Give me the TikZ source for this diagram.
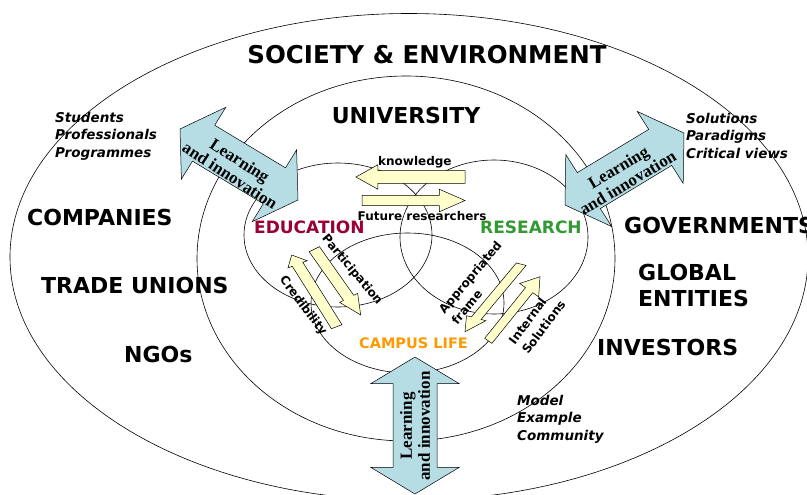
\documentclass[tikz,border=0pt]{standalone}
\usepackage{fontspec}
\setmainfont{DejaVu Sans}
\newfontfamily\serifLI{Liberation Serif}
\definecolor{bluefill}{RGB}{182,221,228}
\definecolor{yelfill}{RGB}{255,255,204}
\definecolor{edured}{RGB}{153,0,51}
\definecolor{resgreen}{RGB}{51,153,51}
\definecolor{campor}{RGB}{255,153,0}
% double block arrow: cx cy ax ay bx by r s
\newcommand{\dblarr}[8]{%
 \filldraw[bluearr] ({(#1)-(#3)},{(#2)-(#4)})
 -- ({(#1)-(#7)*(#3)+(#5)},{(#2)-(#7)*(#4)+(#6)})
 -- ({(#1)-(#7)*(#3)+(#8)*(#5)},{(#2)-(#7)*(#4)+(#8)*(#6)})
 -- ({(#1)+(#7)*(#3)+(#8)*(#5)},{(#2)+(#7)*(#4)+(#8)*(#6)})
 -- ({(#1)+(#7)*(#3)+(#5)},{(#2)+(#7)*(#4)+(#6)})
 -- ({(#1)+(#3)},{(#2)+(#4)})
 -- ({(#1)+(#7)*(#3)-(#5)},{(#2)+(#7)*(#4)-(#6)})
 -- ({(#1)+(#7)*(#3)-(#8)*(#5)},{(#2)+(#7)*(#4)-(#8)*(#6)})
 -- ({(#1)-(#7)*(#3)-(#8)*(#5)},{(#2)-(#7)*(#4)-(#8)*(#6)})
 -- ({(#1)-(#7)*(#3)-(#5)},{(#2)-(#7)*(#4)-(#6)})
 -- cycle;}
% single block arrow: tx ty ax ay bx by r s
\newcommand{\sglarr}[8]{%
 \filldraw[yelarr] ({(#1)+(#8)*(#5)},{(#2)+(#8)*(#6)})
 -- ({(#1)+(#7)*(#3)+(#8)*(#5)},{(#2)+(#7)*(#4)+(#8)*(#6)})
 -- ({(#1)+(#7)*(#3)+(#5)},{(#2)+(#7)*(#4)+(#6)})
 -- ({(#1)+(#3)},{(#2)+(#4)})
 -- ({(#1)+(#7)*(#3)-(#5)},{(#2)+(#7)*(#4)-(#6)})
 -- ({(#1)+(#7)*(#3)-(#8)*(#5)},{(#2)+(#7)*(#4)-(#8)*(#6)})
 -- ({(#1)-(#8)*(#5)},{(#2)-(#8)*(#6)})
 -- cycle;}
\tikzset{
 big/.style={font=\bfseries\fontsize{22}{26}\selectfont, inner sep=0pt},
 midlab/.style={font=\bfseries\fontsize{17}{20}\selectfont, inner sep=0pt},
 smalllab/.style={font=\bfseries\fontsize{12}{16.5}\selectfont, inner sep=0pt},
 ital/.style={font=\bfseries\itshape\fontsize{13.5}{17.5}\selectfont, inner sep=0pt, align=left, anchor=north west},
 bluetxt/.style={font=\serifLI\bfseries\fontsize{17}{18}\selectfont, align=center, inner sep=0pt},
 circ/.style={draw=black, line width=0.6pt},
 bluearr/.style={fill=bluefill, draw=black, line width=0.5pt},
 yelarr/.style={fill=yelfill, draw=black, line width=0.5pt},
}
\begin{document}
\begin{tikzpicture}[x=1pt,y=-1pt]
\useasboundingbox (0,0) rectangle (807,495);
\fill[white] (0,0) rectangle (807,495);
% ellipses
\draw[circ] (409,257) ellipse [x radius=399, y radius=243.5];
\draw[circ] (406,258.5) ellipse [x radius=209, y radius=182.5];
\draw[circ] (338,235) ellipse [x radius=94, y radius=72];
\draw[circ] (494,237) ellipse [x radius=94, y radius=77];
\draw[circ] (407.5,303) ellipse [x radius=96.5, y radius=70];
% blue double arrows
\dblarr{239}{164.5}{59}{35.5}{22.2}{-35.9}{0.6}{0.5}
\dblarr{624.5}{169}{59.5}{-36}{-23}{-36}{0.6}{0.5}
\dblarr{415}{425.5}{0}{68.5}{44}{0}{0.613}{0.5}
% yellow arrows
\sglarr{465}{177}{-109}{0}{0}{12.2}{0.8}{0.52}
\sglarr{362}{200.5}{103}{0}{0}{11.3}{0.75}{0.46}
\sglarr{314.3}{249.2}{46.4}{65.8}{9}{-4.5}{0.74}{0.57}
\sglarr{336.7}{326.7}{-45}{-71.7}{9.6}{-3.6}{0.87}{0.55}
\sglarr{521.2}{264.2}{-56.2}{67.5}{9.7}{2.5}{0.8}{0.5}
\sglarr{488.3}{340.8}{51.7}{-64.1}{-9.5}{-6.7}{0.79}{0.38}
% big labels
\node[big, font=\bfseries\fontsize{24.5}{28}\selectfont, anchor=base] (soc) at (427,63.5) {SOCIETY \& ENVIRONMENT};
\node[big, anchor=base] (uni) at (406,123.5) {UNIVERSITY};
\node[big, anchor=base west] (comp) at (27,225) {COMPANIES};
\node[big, anchor=base west] (trade) at (41,293.5) {TRADE UNIONS};
\node[big, anchor=base west] (ngo) at (124,362) {NGOs};
\node[big, anchor=base west] (gov) at (624,233) {GOVERNMENTS};
\node[big, align=left, anchor=north west] (glob) at (638,264) {GLOBAL\\ENTITIES};
\node[big, anchor=base west] (inv) at (597,355) {INVESTORS};
% italic lists
\node[ital] (stud) at (55,111.7) {Students\\Professionals\\Programmes};
\node[ital] (sol) at (686,112.7) {Solutions\\Paradigms\\Critical views};
\node[ital] (mod) at (517,394.7) {Model\\Example\\Community};
% core labels
\node[midlab, text=edured, anchor=base west] (edu) at (254,233.5) {EDUCATION};
\node[midlab, text=resgreen, anchor=base west] (res) at (480,233.5) {RESEARCH};
\node[midlab, font=\bfseries\fontsize{14.5}{17}\selectfont, text=campor, anchor=base west] (camp) at (359,348.5) {CAMPUS LIFE};
\node[smalllab, anchor=base west] (know) at (378,165) {knowledge};
\node[smalllab, anchor=base west] (fut) at (357.5,220) {Future researchers};
\node[smalllab, rotate=-50] (part) at (352,270) {Participation};
\node[smalllab, rotate=-53] (cred) at (303,306) {Credibility};
\node[smalllab, rotate=50, align=left] (appr) at (476.5,282.5) {Appropriated\\frame};
\node[smalllab, rotate=53, align=left] (intsol) at (537,322) {Internal\\Solutions};
% blue arrow texts
\node[bluetxt, rotate=-33] (lia) at (235,168) {Learning\\and innovation};
\node[bluetxt, rotate=31] (lib) at (623,175) {Learning\\and innovation};
\node[bluetxt, rotate=90] (lic) at (415,426) {Learning\\and innovation};
\end{tikzpicture}
\end{document}
